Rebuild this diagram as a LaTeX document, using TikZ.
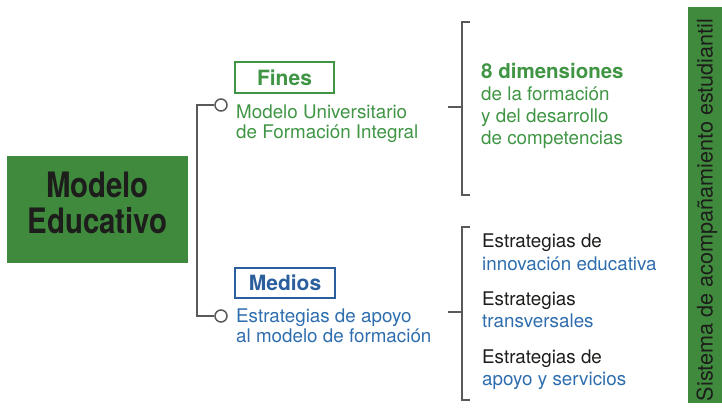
\documentclass[tikz,border=0pt]{standalone}
\usepackage{fontspec}
\setmainfont{TeX Gyre Heros}
\newfontfamily\condfont[FakeStretch=0.84]{TeX Gyre Heros}
\definecolor{boxgreen}{HTML}{3F8A3D}
\definecolor{txtgreen}{HTML}{3F9544}
\definecolor{txtblue}{HTML}{2E6DAE}
\definecolor{darkblue}{HTML}{2A5E9C}
\definecolor{linegray}{HTML}{59595B}
\definecolor{txtblack}{HTML}{1D1D1B}
\tikzset{
  body/.style={anchor=base west, inner sep=0pt, font=\fontsize{18.8}{20}\selectfont},
  gtxt/.style={body, text=txtgreen},
  btxt/.style={body, text=txtblue},
  ktxt/.style={body, text=txtblack},
  tagbox/.style={draw, line width=2pt, minimum height=30pt, inner sep=0pt, font=\fontsize{21}{22}\selectfont\bfseries},
  knob/.style={circle, draw=linegray, line width=1.5pt, fill=white, minimum size=12pt, inner sep=0pt},
  conn/.style={draw=linegray, line width=2pt},
  brack/.style={draw=linegray, line width=2.6pt}
}
\begin{document}
\begin{tikzpicture}[x=1pt,y=-1pt]
\useasboundingbox (0,0) rectangle (722,408);
% main box
\node[fill=boxgreen, minimum width=181pt, minimum height=107pt, inner sep=0pt] (main) at (97.5,209.5) {};
\node[anchor=base, inner sep=0pt, text=txtblack, font=\condfont\bfseries\fontsize{35}{36}\selectfont] (m1) at (97.5,197) {Modelo};
\node[anchor=base, inner sep=0pt, text=txtblack, font=\condfont\bfseries\fontsize{35}{36}\selectfont] (m2) at (97.5,233) {Educativo};
% connectors
\node[knob] (c1) at (221,105) {};
\node[knob] (c2) at (221,316) {};
\coordinate (k) at (197,210);
\draw[conn] (c1.west) -| (k) |- (c2.west);
% Fines
\node[tagbox, draw=txtgreen, text=txtgreen, minimum width=99pt, minimum height=31pt] (fines) at (284.5,77.5) {Fines};
\node[gtxt] (f1) at (236,118) {Modelo Universitario};
\node[gtxt] (f2) at (236,138) {de Formación Integral};
% Medios
\node[tagbox, draw=darkblue, text=darkblue, minimum width=100pt] (medios) at (285,283) {Medios};
\node[btxt] (e1) at (236,322) {Estrategias de apoyo};
\node[btxt] (e2) at (236,342) {al modelo de formación};
% top bracket
\draw[brack] (470,22) -- (462,22) -- (462,195) -- (470,195);
\draw[brack] (448,107) -- (462,107);
\node[gtxt, font=\fontsize{20.5}{22}\selectfont\bfseries] (d0) at (481,78) {8 dimensiones};
\node[gtxt] (d1) at (481,100) {de la formación};
\node[gtxt] (d2) at (481,122) {y del desarrollo};
\node[gtxt] (d3) at (481,144) {de competencias};
% bottom bracket
\draw[brack] (470,227) -- (462,227) -- (462,400) -- (470,400);
\draw[brack] (448,312) -- (462,312);
\node[ktxt] (s1) at (482,247) {Estrategias de};
\node[btxt] (s2) at (482,270) {innovación educativa};
\node[ktxt] (s3) at (482,305) {Estrategias};
\node[btxt] (s4) at (482,327) {transversales};
\node[ktxt] (s5) at (482,363) {Estrategias de};
\node[btxt] (s6) at (482,385) {apoyo y servicios};
% side bar
\node[fill=boxgreen, minimum width=34pt, minimum height=396pt, inner sep=0pt] (bar) at (705,205) {};
\node[rotate=90, inner sep=0pt, text=txtblack, font=\fontsize{21.6}{22}\selectfont] (bart) at (707,210) {Sistema de acompañamiento estudiantil};
\end{tikzpicture}
\end{document}
